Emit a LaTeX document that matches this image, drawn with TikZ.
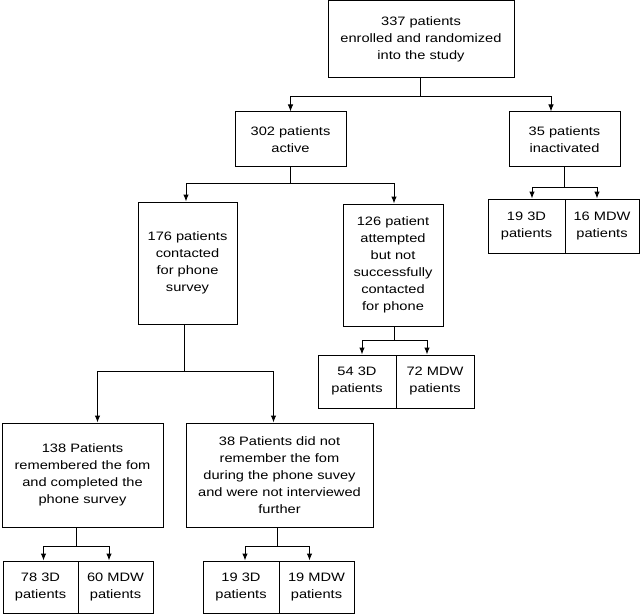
\documentclass[tikz,border=0pt]{standalone}
\usepackage{fontspec}
\setmainfont{Liberation Sans}[FakeStretch=1.2]
\usetikzlibrary{arrows.meta}

\tikzset{
  flowbox/.style={draw,line width=1pt,inner sep=0pt,align=center,
    font=\fontsize{12.2}{17}\selectfont},
  flowline/.style={line width=1pt},
  flowarrow/.style={line width=1pt,-{Latex[length=7pt,width=5.5pt]}}
}

\begin{document}
\begin{tikzpicture}[x=1pt,y=-1pt]
  \useasboundingbox (0,0) rectangle (640,615);
  % enrolment
  \node[flowbox,minimum width=186pt,minimum height=77pt] (enrolled) at (421,39.5)
    {337 patients\\enrolled and randomized\\into the study};
  % first split
  \node[flowbox,minimum width=111pt,minimum height=55pt] (active) at (290.5,139.5)
    {302 patients\\active};
  \node[flowbox,minimum width=111pt,minimum height=55pt] (inactive) at (564.5,139.5)
    {35 patients\\inactivated};
  \node[flowbox,minimum width=77pt,minimum height=54pt] (in3D) at (526.5,226)
    {19 3D\\patients};
  \node[flowbox,minimum width=74pt,minimum height=54pt] (inMDW) at (602,226)
    {16 MDW\\patients};
  % active patients
  \node[flowbox,minimum width=99pt,minimum height=122pt] (contacted) at (187.5,263)
    {176 patients\\contacted\\for phone\\survey};
  \node[flowbox,minimum width=100pt,minimum height=122pt] (attempted) at (393,265)
    {126 patient\\attempted\\but not\\successfully\\contacted\\for phone};
  \node[flowbox,minimum width=78pt,minimum height=53pt] (at3D) at (357,381.5)
    {54 3D\\patients};
  \node[flowbox,minimum width=78pt,minimum height=53pt] (atMDW) at (435,381.5)
    {72 MDW\\patients};
  % phone survey
  \node[flowbox,minimum width=161pt,minimum height=104pt] (remembered) at (82.5,475)
    {138 Patients\\remembered the fom\\and completed the\\phone survey};
  \node[flowbox,minimum width=187pt,minimum height=104pt] (forgot) at (279.5,475)
    {38 Patients did not\\remember the fom\\during the phone suvey\\and were not interviewed\\further};
  \node[flowbox,minimum width=75pt,minimum height=52pt] (rem3D) at (40.5,587)
    {78 3D\\patients};
  \node[flowbox,minimum width=75pt,minimum height=52pt] (remMDW) at (115.5,587)
    {60 MDW\\patients};
  \node[flowbox,minimum width=76pt,minimum height=52pt] (for3D) at (241,587)
    {19 3D\\patients};
  \node[flowbox,minimum width=75pt,minimum height=52pt] (forMDW) at (316.5,587)
    {19 MDW\\patients};

  % junctions
  \coordinate (jEnrolled) at (420,97);
  \coordinate (jActive) at (290.5,183);
  \coordinate (jInactive) at (564,187);
  \coordinate (jContacted) at (184.5,371);
  \coordinate (jAttempted) at (394,340);
  \coordinate (jRemembered) at (76.5,546);
  \coordinate (jForgot) at (277.5,546);

  % connectors
  \draw[flowline] (jEnrolled |- enrolled.south) -- (jEnrolled);
  \draw[flowarrow] (jEnrolled) -| (active.north);
  \draw[flowarrow] (jEnrolled) -| ([xshift=-13.5pt]inactive.north);

  \draw[flowline] (jActive |- active.south) -- (jActive);
  \draw[flowarrow] (jActive) -| ([xshift=-1.5pt]contacted.north);
  \draw[flowarrow] (jActive) -| ([xshift=1pt]attempted.north);

  \draw[flowline] (jInactive |- inactive.south) -- (jInactive);
  \draw[flowarrow] (jInactive) -| ([xshift=5.5pt]in3D.north);
  \draw[flowarrow] (jInactive) -| ([xshift=-5pt]inMDW.north);

  \draw[flowline] (jContacted |- contacted.south) -- (jContacted);
  \draw[flowarrow] (jContacted) -| ([xshift=15pt]remembered.north);
  \draw[flowarrow] (jContacted) -| ([xshift=-6pt]forgot.north);

  \draw[flowline] (jAttempted |- attempted.south) -- (jAttempted);
  \draw[flowarrow] (jAttempted) -| ([xshift=5pt]at3D.north);
  \draw[flowarrow] (jAttempted) -| ([xshift=-8pt]atMDW.north);

  \draw[flowline] (jRemembered |- remembered.south) -- (jRemembered);
  \draw[flowarrow] (jRemembered) -| ([xshift=3pt]rem3D.north);
  \draw[flowarrow] (jRemembered) -| ([xshift=-6.5pt]remMDW.north);

  \draw[flowline] (jForgot |- forgot.south) -- (jForgot);
  \draw[flowarrow] (jForgot) -| ([xshift=4pt]for3D.north);
  \draw[flowarrow] (jForgot) -| ([xshift=-7pt]forMDW.north);
\end{tikzpicture}
\end{document}
